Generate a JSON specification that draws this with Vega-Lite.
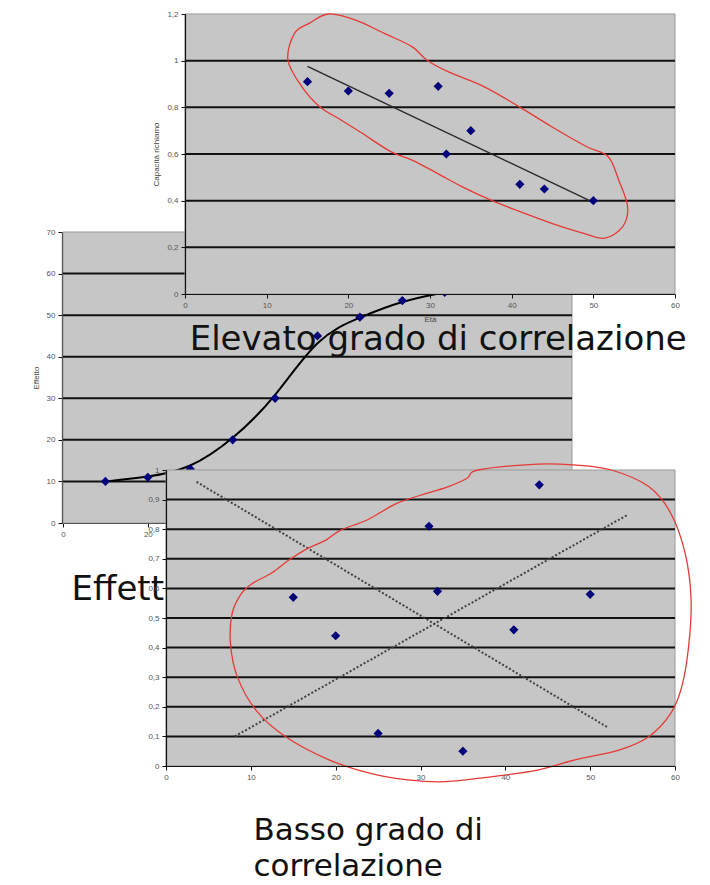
{
  "$schema": "https://vega.github.io/schema/vega-lite/v6.json",
  "width": 710,
  "height": 885,
  "padding": 0,
  "autosize": {"type": "none"},
  "background": "white",
  "datasets": {
    "effetto": [
      {"dose": 10, "effetto": 10},
      {"dose": 20, "effetto": 11},
      {"dose": 30, "effetto": 13},
      {"dose": 40, "effetto": 20},
      {"dose": 50, "effetto": 30},
      {"dose": 60, "effetto": 45},
      {"dose": 70, "effetto": 49.5},
      {"dose": 80, "effetto": 53.5},
      {"dose": 90, "effetto": 55.5}
    ],
    "richiamo": [
      {"eta": 15, "capacita": 0.91},
      {"eta": 20, "capacita": 0.87},
      {"eta": 25, "capacita": 0.86},
      {"eta": 31, "capacita": 0.89},
      {"eta": 32, "capacita": 0.60},
      {"eta": 35, "capacita": 0.70},
      {"eta": 41, "capacita": 0.47},
      {"eta": 44, "capacita": 0.45},
      {"eta": 50, "capacita": 0.40}
    ],
    "basso": [
      {"eta": 15, "valore": 0.57},
      {"eta": 20, "valore": 0.44},
      {"eta": 25, "valore": 0.11},
      {"eta": 31, "valore": 0.81},
      {"eta": 32, "valore": 0.59},
      {"eta": 35, "valore": 0.05},
      {"eta": 41, "valore": 0.46},
      {"eta": 44, "valore": 0.95},
      {"eta": 50, "valore": 0.58}
    ],
    "rette": [
      {"retta": "a", "x": 3.6, "y": 0.96},
      {"retta": "a", "x": 52.1, "y": 0.13},
      {"retta": "b", "x": 8.1, "y": 0.10},
      {"retta": "b", "x": 54.5, "y": 0.85}
    ],
    "ansaAlta": [
      {"p": 0, "x": 17.6, "y": 1.2},
      {"p": 1, "x": 20.9, "y": 1.174},
      {"p": 2, "x": 24.4, "y": 1.117},
      {"p": 3, "x": 27.8, "y": 1.06},
      {"p": 4, "x": 29.6, "y": 1.003},
      {"p": 5, "x": 32.2, "y": 0.953},
      {"p": 6, "x": 36.6, "y": 0.889},
      {"p": 7, "x": 40.9, "y": 0.803},
      {"p": 8, "x": 44.9, "y": 0.717},
      {"p": 9, "x": 49.2, "y": 0.631},
      {"p": 10, "x": 51.8, "y": 0.589},
      {"p": 11, "x": 53.1, "y": 0.489},
      {"p": 12, "x": 54.2, "y": 0.374},
      {"p": 13, "x": 53.6, "y": 0.289},
      {"p": 14, "x": 51.4, "y": 0.239},
      {"p": 15, "x": 48.8, "y": 0.26},
      {"p": 16, "x": 44.9, "y": 0.303},
      {"p": 17, "x": 40.5, "y": 0.36},
      {"p": 18, "x": 37.4, "y": 0.403},
      {"p": 19, "x": 33.9, "y": 0.46},
      {"p": 20, "x": 30.9, "y": 0.517},
      {"p": 21, "x": 27.8, "y": 0.574},
      {"p": 22, "x": 25.2, "y": 0.61},
      {"p": 23, "x": 21.7, "y": 0.689},
      {"p": 24, "x": 19.1, "y": 0.746},
      {"p": 25, "x": 16.5, "y": 0.803},
      {"p": 26, "x": 14.3, "y": 0.889},
      {"p": 27, "x": 12.6, "y": 1.003},
      {"p": 28, "x": 13.4, "y": 1.117},
      {"p": 29, "x": 15.2, "y": 1.16}
    ],
    "ansaBassa": [
      {"p": 0, "x": 36.8, "y": 1.0},
      {"p": 1, "x": 43.8, "y": 1.02},
      {"p": 2, "x": 48.1, "y": 1.017},
      {"p": 3, "x": 52.5, "y": 1.0},
      {"p": 4, "x": 56.9, "y": 0.944},
      {"p": 5, "x": 59.5, "y": 0.854},
      {"p": 6, "x": 61.2, "y": 0.718},
      {"p": 7, "x": 61.9, "y": 0.561},
      {"p": 8, "x": 61.6, "y": 0.403},
      {"p": 9, "x": 60.8, "y": 0.268},
      {"p": 10, "x": 59.5, "y": 0.178},
      {"p": 11, "x": 56.9, "y": 0.099},
      {"p": 12, "x": 53.4, "y": 0.054},
      {"p": 13, "x": 48.1, "y": 0.02},
      {"p": 14, "x": 43.8, "y": -0.014},
      {"p": 15, "x": 38.5, "y": -0.036},
      {"p": 16, "x": 32.9, "y": -0.053},
      {"p": 17, "x": 28.5, "y": -0.047},
      {"p": 18, "x": 24.1, "y": -0.025},
      {"p": 19, "x": 19.3, "y": 0.02},
      {"p": 20, "x": 14.1, "y": 0.099},
      {"p": 21, "x": 10.6, "y": 0.189},
      {"p": 22, "x": 8.4, "y": 0.302},
      {"p": 23, "x": 7.6, "y": 0.414},
      {"p": 24, "x": 7.8, "y": 0.516},
      {"p": 25, "x": 8.9, "y": 0.583},
      {"p": 26, "x": 10.2, "y": 0.617},
      {"p": 27, "x": 12.4, "y": 0.651},
      {"p": 28, "x": 14.5, "y": 0.696},
      {"p": 29, "x": 16.7, "y": 0.735},
      {"p": 30, "x": 18.9, "y": 0.764},
      {"p": 31, "x": 20.6, "y": 0.797},
      {"p": 32, "x": 23.7, "y": 0.831},
      {"p": 33, "x": 27.2, "y": 0.887},
      {"p": 34, "x": 30.7, "y": 0.921},
      {"p": 35, "x": 33.3, "y": 0.944},
      {"p": 36, "x": 35.5, "y": 0.972}
    ],
    "grigliaMedia": [{"v": 10}, {"v": 20}, {"v": 30}, {"v": 40}, {"v": 50}, {"v": 60}],
    "grigliaAlta": [{"v": 0.2}, {"v": 0.4}, {"v": 0.6}, {"v": 0.8}, {"v": 1}],
    "grigliaBassa": [{"v": 0.1}, {"v": 0.2}, {"v": 0.3}, {"v": 0.4}, {"v": 0.5}, {"v": 0.6}, {"v": 0.7}, {"v": 0.8}, {"v": 0.9}]
  },
  "layer": [
    {
      "layer": [
        {
          "data": {"values": [{}]},
          "mark": {"type": "rect", "fill": "#c6c6c6", "stroke": "#999999", "strokeWidth": 1},
          "encoding": {
            "x": {
              "datum": 0, "type": "quantitative",
              "scale": {"domain": [0, 120], "range": [63, 572], "nice": false, "zero": false},
              "axis": {"orient": "bottom", "offset": -362, "values": [0, 20, 40, 60, 80, 100, 120], "title": null, "zindex": 0}
            },
            "x2": {"datum": 120},
            "y": {
              "datum": 0, "type": "quantitative",
              "scale": {"domain": [0, 70], "range": [523, 232], "nice": false, "zero": false},
              "axis": {"orient": "left", "offset": -62, "values": [0, 10, 20, 30, 40, 50, 60, 70], "title": "Effetto", "titlePadding": 6, "zindex": 0}
            },
            "y2": {"datum": 70}
          }
        },
        {
          "data": {"name": "grigliaMedia"},
          "mark": {"type": "rule", "color": "#111111", "strokeWidth": 2},
          "encoding": {
            "y": {"field": "v", "type": "quantitative"},
            "x": {"datum": 0},
            "x2": {"datum": 120}
          }
        },
        {
          "data": {"name": "effetto"},
          "mark": {"type": "line", "interpolate": "basis", "color": "#000000", "strokeWidth": 2},
          "encoding": {
            "x": {"field": "dose", "type": "quantitative"},
            "y": {"field": "effetto", "type": "quantitative"}
          }
        },
        {
          "data": {"name": "effetto"},
          "mark": {"type": "point", "shape": "diamond", "filled": true, "size": 85, "color": "#00007a", "opacity": 1},
          "encoding": {
            "x": {"field": "dose", "type": "quantitative"},
            "y": {"field": "effetto", "type": "quantitative"}
          }
        },
        {
          "data": {"values": [{}]},
          "mark": {"type": "text", "text": "Effetto", "font": "DejaVu Sans", "fontSize": 34, "align": "left", "baseline": "alphabetic", "color": "#111111"},
          "encoding": {
            "x": {"datum": 2.0},
            "y": {"datum": -18.5}
          }
        }
      ]
    },
    {
      "layer": [
        {
          "data": {"values": [{}]},
          "mark": {"type": "rect", "fill": "#c6c6c6", "stroke": "#999999", "strokeWidth": 1},
          "encoding": {
            "x": {
              "datum": 0, "type": "quantitative",
              "scale": {"domain": [0, 60], "range": [185, 675], "nice": false, "zero": false},
              "axis": {"orient": "bottom", "offset": -591, "values": [0, 10, 20, 30, 40, 50, 60], "title": "Età", "titlePadding": 6, "zindex": 1}
            },
            "x2": {"datum": 60},
            "y": {
              "datum": 0, "type": "quantitative",
              "scale": {"domain": [0, 1.2], "range": [294, 14], "nice": false, "zero": false},
              "axis": {"orient": "left", "offset": -185, "values": [0, 0.2, 0.4, 0.6, 0.8, 1, 1.2], "format": "~g", "title": "Capacità richiamo", "titlePadding": 6, "zindex": 1}
            },
            "y2": {"datum": 1.2}
          }
        },
        {
          "data": {"name": "grigliaAlta"},
          "mark": {"type": "rule", "color": "#111111", "strokeWidth": 2},
          "encoding": {
            "y": {"field": "v", "type": "quantitative"},
            "x": {"datum": 0},
            "x2": {"datum": 60}
          }
        },
        {
          "data": {"name": "richiamo"},
          "transform": [{"regression": "capacita", "on": "eta"}],
          "mark": {"type": "line", "color": "#2a2a2a", "strokeWidth": 1.4},
          "encoding": {
            "x": {"field": "eta", "type": "quantitative"},
            "y": {"field": "capacita", "type": "quantitative"}
          }
        },
        {
          "data": {"name": "richiamo"},
          "mark": {"type": "point", "shape": "diamond", "filled": true, "size": 85, "color": "#00007a", "opacity": 1},
          "encoding": {
            "x": {"field": "eta", "type": "quantitative"},
            "y": {"field": "capacita", "type": "quantitative"}
          }
        },
        {
          "data": {"name": "ansaAlta"},
          "mark": {"type": "line", "interpolate": "cardinal-closed", "color": "#e53935", "strokeWidth": 1.3},
          "encoding": {
            "x": {"field": "x", "type": "quantitative"},
            "y": {"field": "y", "type": "quantitative"},
            "order": {"field": "p"}
          }
        },
        {
          "data": {"values": [{}]},
          "mark": {"type": "text", "text": "Elevato grado di correlazione", "font": "DejaVu Sans", "fontSize": 34, "align": "center", "baseline": "alphabetic", "color": "#111111"},
          "encoding": {
            "x": {"datum": 31},
            "y": {"datum": -0.24}
          }
        }
      ]
    },
    {
      "layer": [
        {
          "data": {"values": [{}]},
          "mark": {"type": "rect", "fill": "#c6c6c6", "stroke": "#999999", "strokeWidth": 1},
          "encoding": {
            "x": {
              "datum": 0, "type": "quantitative",
              "scale": {"domain": [0, 60], "range": [166, 675], "nice": false, "zero": false},
              "axis": {"orient": "bottom", "offset": -119, "values": [0, 10, 20, 30, 40, 50, 60], "title": null, "zindex": 1}
            },
            "x2": {"datum": 60},
            "y": {
              "datum": 0, "type": "quantitative",
              "scale": {"domain": [0, 1], "range": [766, 470], "nice": false, "zero": false},
              "axis": {"orient": "left", "offset": -166, "values": [0, 0.1, 0.2, 0.3, 0.4, 0.5, 0.6, 0.7, 0.8, 0.9, 1], "format": "~g", "title": null, "zindex": 1}
            },
            "y2": {"datum": 1}
          }
        },
        {
          "data": {"name": "grigliaBassa"},
          "mark": {"type": "rule", "color": "#111111", "strokeWidth": 2},
          "encoding": {
            "y": {"field": "v", "type": "quantitative"},
            "x": {"datum": 0},
            "x2": {"datum": 60}
          }
        },
        {
          "data": {"name": "rette"},
          "mark": {"type": "line", "color": "#404040", "strokeWidth": 2, "strokeDash": [2, 2]},
          "encoding": {
            "x": {"field": "x", "type": "quantitative"},
            "y": {"field": "y", "type": "quantitative"},
            "detail": {"field": "retta"}
          }
        },
        {
          "data": {"name": "basso"},
          "mark": {"type": "point", "shape": "diamond", "filled": true, "size": 85, "color": "#00007a", "opacity": 1},
          "encoding": {
            "x": {"field": "eta", "type": "quantitative"},
            "y": {"field": "valore", "type": "quantitative"}
          }
        },
        {
          "data": {"name": "ansaBassa"},
          "mark": {"type": "line", "interpolate": "cardinal-closed", "color": "#e53935", "strokeWidth": 1.3},
          "encoding": {
            "x": {"field": "x", "type": "quantitative"},
            "y": {"field": "y", "type": "quantitative"},
            "order": {"field": "p"}
          }
        },
        {
          "data": {"values": [{}]},
          "mark": {"type": "text", "text": ["Basso grado di", "correlazione"], "font": "DejaVu Sans", "fontSize": 31, "lineHeight": 36, "align": "left", "baseline": "alphabetic", "color": "#111111"},
          "encoding": {
            "x": {"datum": 10.3},
            "y": {"datum": -0.25}
          }
        }
      ]
    }
  ],
  "resolve": {"scale": {"x": "independent", "y": "independent"}},
  "config": {
    "locale": {"number": {"decimal": ",", "thousands": ".", "grouping": [3], "currency": ["€", ""]}},
    "view": {"stroke": null},
    "axis": {
      "grid": false,
      "labelFont": "Liberation Sans",
      "labelFontSize": 8,
      "labelColor": "#555555",
      "labelPadding": 3,
      "labelOverlap": false,
      "labelFlush": false,
      "tickColor": "#111111",
      "tickSize": 4,
      "domainColor": "#111111",
      "domainWidth": 1.2,
      "titleFont": "Liberation Sans",
      "titleFontSize": 8,
      "titleFontWeight": "normal",
      "titleColor": "#444444"
    }
  }
}
